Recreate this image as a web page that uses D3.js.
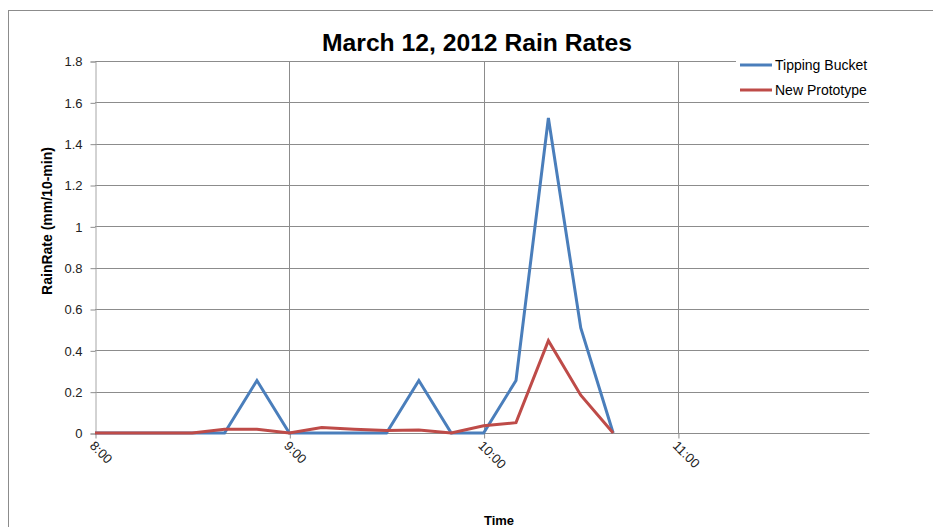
<!DOCTYPE html>
<html>
<head>
<meta charset="utf-8">
<script src="https://cdn.jsdelivr.net/npm/d3@7"></script>
<style>
  body { margin: 0; background: #fff; }
  svg { display: block; font-family: "Liberation Sans", Arial, sans-serif; }
</style>
</head>
<body>
<svg id="chart" width="933" height="527"></svg>
<script>
// ---- data ----
const times = ["8:00","8:10","8:20","8:30","8:40","8:50","9:00","9:10","9:20","9:30","9:40","9:50","10:00","10:10","10:20","10:30","10:40"];
const tippingBucket = [0,0,0,0,0,0.254,0,0,0,0,0.254,0,0,0.254,1.524,0.508,0];
const newPrototype  = [0,0,0,0,0.018,0.018,0,0.027,0.018,0.012,0.014,0,0.035,0.05,0.447,0.183,0];
const xTickLabels = ["8:00","9:00","10:00","11:00"];
const yTicks = [0,0.2,0.4,0.6,0.8,1,1.2,1.4,1.6,1.8];
const seriesNames = ["Tipping Bucket","New Prototype"];
const colors = ["#4a7ebb","#be4b48"];

const toMin = s => { const [h,m] = s.split(":").map(Number); return h*60+m; };

const svg = d3.select("#chart");
const W = 933, H = 527;
const plot = {left: 95, right: 869, top: 61, bottom: 433};

// outer chart border
svg.append("rect").attr("x",8.5).attr("y",10.5).attr("width",W).attr("height",H)
  .attr("fill","#fff").attr("stroke","#8c8c8c").attr("stroke-width",1);

const x = d3.scaleLinear().domain([toMin("8:00"), toMin("11:59")]).range([plot.left, plot.right]);
const y = d3.scaleLinear().domain([0,1.8]).range([plot.bottom, plot.top]);

// horizontal gridlines
svg.append("g").selectAll("line").data(yTicks.filter(d=>d>0)).join("line")
  .attr("x1",plot.left).attr("x2",plot.right)
  .attr("y1",d=>Math.round(y(d))+0.5).attr("y2",d=>Math.round(y(d))+0.5)
  .attr("stroke","#8c8c8c").attr("stroke-width",1);

// vertical gridlines
svg.append("g").selectAll("line").data(xTickLabels.slice(1)).join("line")
  .attr("x1",d=>Math.round(x(toMin(d)))+0.5).attr("x2",d=>Math.round(x(toMin(d)))+0.5)
  .attr("y1",plot.top).attr("y2",plot.bottom)
  .attr("stroke","#8c8c8c").attr("stroke-width",1);

// y axis
const yAxis = d3.axisLeft(y).tickValues(yTicks).tickSize(5).tickPadding(8)
  .tickFormat(d => d3.format("~g")(d));
const yg = svg.append("g").attr("transform",`translate(${plot.left+0.5},0.5)`).call(yAxis);
yg.select(".domain").attr("stroke","#a6a6a6");
yg.selectAll(".tick line").attr("stroke","#8c8c8c");
yg.selectAll(".tick text").attr("font-size",13).attr("fill","#222");

// x axis
const xAxis = d3.axisBottom(x).tickValues(xTickLabels.map(toMin)).tickSize(5)
  .tickFormat((d,i) => xTickLabels[i]);
const xg = svg.append("g").attr("transform",`translate(0.5,${plot.bottom+0.5})`).call(xAxis);
xg.select(".domain").attr("stroke","#8c8c8c").attr("d",`M${plot.left-0.5},0H${plot.right}`);
xg.selectAll(".tick line").attr("stroke","#8c8c8c");
xg.selectAll(".tick text").attr("font-size",13).attr("fill","#222")
  .attr("text-anchor","start").attr("dy",0).attr("y",0)
  .attr("transform","translate(-7,13) rotate(45)");

// lines
const line = d3.line().x((d,i)=>x(toMin(times[i]))).y(d=>y(d));
[tippingBucket, newPrototype].forEach((vals,k)=>{
  svg.append("path").datum(vals).attr("d",line)
    .attr("fill","none").attr("stroke",colors[k]).attr("stroke-width",3)
    .attr("stroke-linejoin","miter");
});

// title
svg.append("text").attr("x",477).attr("y",51).attr("text-anchor","middle")
  .attr("font-size",24).attr("font-weight","bold").attr("fill","#000")
  .attr("textLength",310).attr("lengthAdjust","spacingAndGlyphs")
  .text("March 12, 2012 Rain Rates");

// axis titles
svg.append("text").attr("transform","translate(52,221) rotate(-90)")
  .attr("text-anchor","middle").attr("font-size",14).attr("font-weight","bold")
  .text("RainRate (mm/10-min)");
svg.append("text").attr("x",499).attr("y",525).attr("text-anchor","middle")
  .attr("font-size",13).attr("font-weight","bold").text("Time");

// legend
const lg = svg.append("g");
lg.append("rect").attr("x",736).attr("y",53).attr("width",133).attr("height",47).attr("fill","#fff");
seriesNames.forEach((n,i)=>{
  const yy = 65 + i*25;
  lg.append("line").attr("x1",740).attr("x2",772).attr("y1",yy).attr("y2",yy)
    .attr("stroke",colors[i]).attr("stroke-width",3);
  lg.append("text").attr("x",775).attr("y",yy+5).attr("font-size",14).attr("fill","#000").text(n);
});
</script>
</body>
</html>
